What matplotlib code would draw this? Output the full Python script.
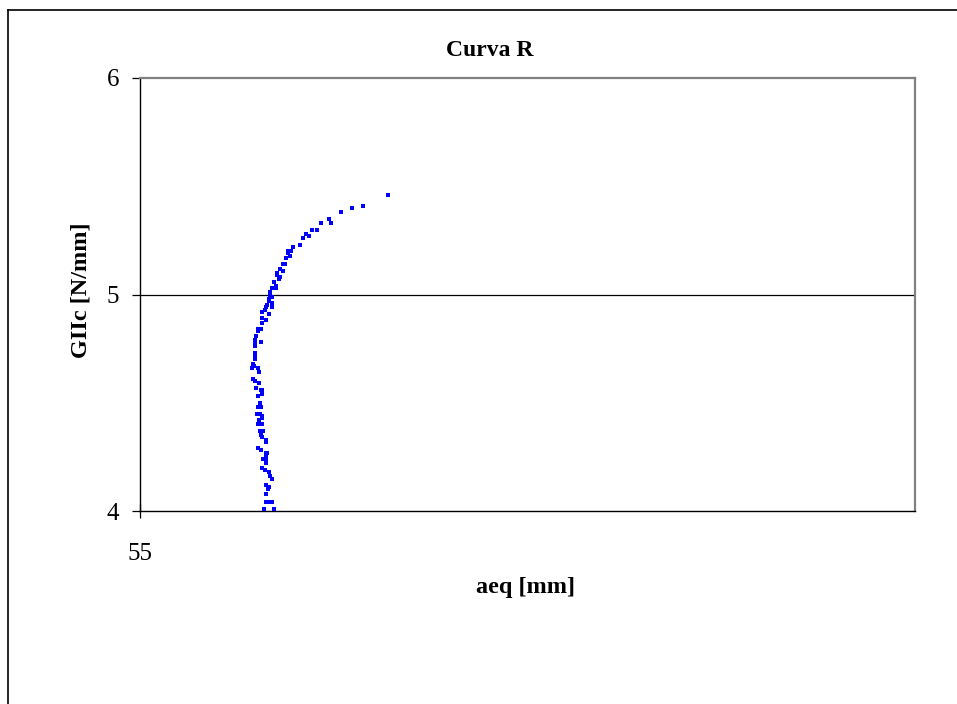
import matplotlib
matplotlib.use("Agg")
import matplotlib.pyplot as plt
from matplotlib.lines import Line2D

# Data (aeq [mm], GIIc [N/mm])
aeq = [58.20, 57.88, 57.74, 57.59, 57.44, 57.46, 57.34, 57.22, 57.28, 57.14,
       57.18, 57.10, 57.06, 56.97, 56.91, 56.95, 56.91, 56.93, 56.89, 56.87,
       56.85, 56.81, 56.85, 56.77, 56.77, 56.81, 56.79, 56.73, 56.75, 56.70,
       56.75, 56.68, 56.68, 56.70, 56.66,
       56.67, 56.70, 56.70, 56.64, 56.63, 56.61, 56.58, 56.66, 56.57, 56.62,
       56.57, 56.56, 56.52, 56.52, 56.50, 56.49, 56.48, 56.56, 56.49, 56.49,
       56.49, 56.49, 56.46, 56.47, 56.45, 56.52, 56.53, 56.46, 56.49, 56.53,
       56.50, 56.56, 56.58, 56.57, 56.52, 56.55, 56.52, 56.56,
       56.51, 56.55, 56.58, 56.57, 56.54, 56.52, 56.57, 56.55, 56.59, 56.56,
       56.58, 56.63, 56.62, 56.52, 56.56, 56.63, 56.64, 56.63, 56.59, 56.63,
       56.63, 56.58, 56.61, 56.67, 56.68, 56.70, 56.63, 56.66, 56.65, 56.63,
       56.62, 56.66, 56.70, 56.60, 56.73]
giic = [5.46, 5.41, 5.40, 5.38, 5.35, 5.33, 5.33, 5.30, 5.30, 5.28,
        5.27, 5.26, 5.23, 5.22, 5.20, 5.20, 5.19, 5.18, 5.17, 5.14,
        5.14, 5.12, 5.11, 5.10, 5.09, 5.08, 5.07, 5.06, 5.04, 5.03,
        5.03, 5.01, 5.00, 4.99, 4.98,
        4.97, 4.96, 4.94, 4.95, 4.94, 4.93, 4.92, 4.91, 4.89, 4.88,
        4.87, 4.84, 4.84, 4.83, 4.81, 4.79, 4.78, 4.78, 4.76, 4.73,
        4.72, 4.70, 4.68, 4.67, 4.66, 4.66, 4.64, 4.61, 4.60, 4.59,
        4.57, 4.56, 4.56, 4.54, 4.53, 4.50, 4.48, 4.48,
        4.45, 4.45, 4.44, 4.43, 4.42, 4.40, 4.40, 4.37, 4.37, 4.35,
        4.34, 4.33, 4.32, 4.29, 4.28, 4.27, 4.27, 4.25, 4.24, 4.24,
        4.22, 4.20, 4.19, 4.18, 4.16, 4.15, 4.12, 4.11, 4.10, 4.08,
        4.04, 4.04, 4.04, 4.01, 4.01]

x_ticks = [55]
y_ticks = [4, 5, 6]
title = "Curva R"
xlabel = "aeq [mm]"
ylabel = "GIIc [N/mm]"

plt.rcParams['font.family'] = ['Liberation Serif', 'DejaVu Serif']

W, H = 957, 704
fig = plt.figure(figsize=(W / 100, H / 100), dpi=100)
fig.patch.set_facecolor('white')

# outer chart frame (extends beyond the image on right/bottom)
fig.add_artist(Line2D([8 / W, 8 / W], [1 - 10 / H, -0.01], color='black', lw=1.2,
                      transform=fig.transFigure))
fig.add_artist(Line2D([8 / W, 1.01], [1 - 10 / H, 1 - 10 / H], color='black', lw=1.2,
                      transform=fig.transFigure))

ax = fig.add_axes([140 / W, 1 - 511 / H, (915 - 140) / W, (511 - 78) / H])
ax.scatter(aeq, giic, marker='s', s=7.5, color='#0000ff', linewidths=0, zorder=3)

ax.set_xlim(55, 65)
ax.set_ylim(4, 6)
ax.set_xticks(x_ticks)
ax.set_xticklabels([str(v) for v in x_ticks])
ax.set_yticks(y_ticks)
ax.set_yticklabels([str(v) for v in y_ticks])

ax.axhline(5, color='black', lw=0.9, zorder=1)

for side in ['left', 'bottom']:
    ax.spines[side].set_color('black')
    ax.spines[side].set_linewidth(1.0)
for side in ['top', 'right']:
    ax.spines[side].set_color('#808080')
    ax.spines[side].set_linewidth(1.6)

ax.tick_params(axis='x', direction='inout', length=10, width=0.9, pad=18,
               labelsize=18)
ax.tick_params(axis='y', direction='out', length=6, width=0.9, pad=9,
               labelsize=18)

fig.text(490 / W, 1 - 50 / H, title, ha='center', va='center',
         fontsize=17, fontweight='bold')
fig.text(525 / W, 1 - 588 / H, xlabel, ha='center', va='center',
         fontsize=17.5, fontweight='bold')
fig.text(81 / W, 1 - 290 / H, ylabel, ha='center', va='center',
         fontsize=17.5, fontweight='bold', rotation=90)

fig.savefig('out.png', dpi=100, facecolor='white')
